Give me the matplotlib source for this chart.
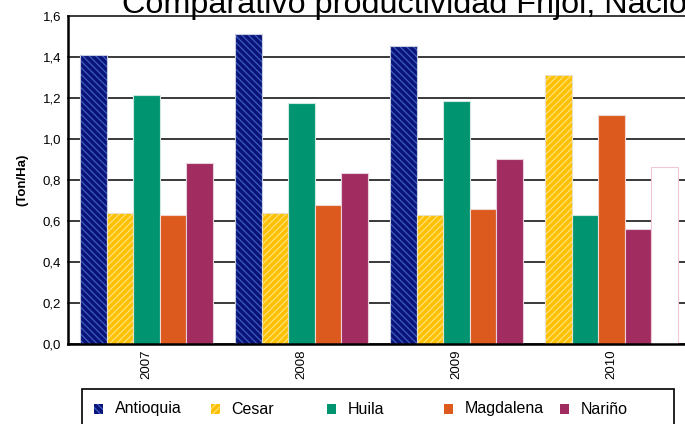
import numpy as np
import matplotlib
matplotlib.use("Agg")
import matplotlib.pyplot as plt
from matplotlib.patches import Rectangle
from matplotlib.ticker import FuncFormatter

plt.rcParams['font.family'] = ['Liberation Sans', 'DejaVu Sans']
plt.rcParams['hatch.linewidth'] = 0.9

# datos (Ton/Ha)
years = ['2007', '2008', '2009', '2010']
series = ['Antioquia', 'Cesar', 'Huila', 'Magdalena', 'Nariño', 'Nacional']
antioquia = [1.408, 1.51, 1.456, np.nan]
cesar = [0.640, 0.640, 0.628, 1.31]
huila = [1.214, 1.176, 1.184, 0.628]
magdalena = [0.627, 0.680, 0.657, 1.116]
narino = [0.883, 0.834, 0.902, 0.561]
nacional = [np.nan, np.nan, np.nan, 0.865]   # serie cortada a la derecha
valores = [antioquia, cesar, huila, magdalena, narino, nacional]

# estilo de cada serie: (relleno, color de rayado, rayado, borde)
estilos = [
    ('#0a1478', '#3c5cc0', '\\' * 5, '#c8cce0'),
    ('#ffc000', '#ffe27a', '/' * 5, '#e8e0c0'),
    ('#009570', None, None, '#d0e8e0'),
    ('#dc5a1e', None, None, '#f0d8d0'),
    ('#a02c60', None, None, '#e8d0dc'),
    ('#ffffff', None, None, '#f2c8d8'),
]
en_leyenda = 5

fig = plt.figure(figsize=(6.85, 4.24), dpi=100)
W, H = 685, 424
ax = fig.add_axes([68 / W, (H - 344) / H, 622 / W, 328 / H])

ancho = 0.1716
for g, yr in enumerate(years):
    presentes = [s for s in range(len(series)) if not np.isnan(valores[s][g])]
    n = len(presentes)
    for k, s in enumerate(presentes):
        x = g + (k - (n - 1) / 2) * ancho
        v = valores[s][g]
        cara, rayado_col, rayado, borde = estilos[s]
        if rayado:
            ax.bar(x, v, ancho, color=cara, edgecolor=rayado_col, hatch=rayado,
                   linewidth=0, zorder=3)
            ax.bar(x, v, ancho, facecolor='none', edgecolor=borde, linewidth=0.8, zorder=4)
        else:
            ax.bar(x, v, ancho, color=cara, edgecolor=borde, linewidth=0.8, zorder=3)

ax.set_xlim(-0.506, 3.506)
ax.set_ylim(0, 1.6)
ax.set_yticks(np.arange(0, 1.61, 0.2))
ax.yaxis.set_major_formatter(FuncFormatter(lambda v, p: f'{v:.1f}'.replace('.', ',')))
ax.set_xticks(range(len(years)))
ax.set_xticklabels(years, rotation=90, fontsize=9.5)
ax.tick_params(axis='y', length=0, pad=5, labelsize=9.5)
ax.tick_params(axis='x', length=0, pad=4)
ax.grid(axis='y', color='#2a2a2a', linewidth=1.3, zorder=1)
for ln in ax.get_ygridlines():
    ln.set_clip_on(False)
ax.spines['top'].set_visible(False)
ax.spines['right'].set_visible(False)
ax.spines['left'].set_linewidth(1.8)
ax.spines['bottom'].set_linewidth(1.8)
ax.spines['bottom'].set_zorder(5)
ax.set_ylabel('(Ton/Ha)', fontsize=9.5, fontweight='bold', labelpad=10)

fig.text(122 / W, (H - 13) / H, 'Comparativo productividad Frijol, Nacional',
         fontsize=23.3, va='baseline', ha='left')

# leyenda dibujada a mano (columnas de igual ancho)
fig.add_artist(Rectangle((82 / W, -6 / H), 592 / W, (H - 389 + 6) / H,
                         transform=fig.transFigure, facecolor='white',
                         edgecolor='black', linewidth=1.2))
for i in range(en_leyenda):
    x0 = 94 + i * 116.5
    cara, rayado_col, rayado, borde = estilos[i]
    if rayado:
        fig.add_artist(Rectangle((x0 / W, (H - 414) / H), 9 / W, 10 / H,
                                 transform=fig.transFigure, facecolor=cara,
                                 edgecolor=rayado_col, hatch=rayado, linewidth=0))
    else:
        fig.add_artist(Rectangle((x0 / W, (H - 414) / H), 9 / W, 10 / H,
                                 transform=fig.transFigure, facecolor=cara,
                                 edgecolor='none', linewidth=0))
    fig.text((x0 + 21) / W, (H - 409) / H, series[i], fontsize=11.5, va='center', ha='left')

fig.savefig('out.png', dpi=100)
